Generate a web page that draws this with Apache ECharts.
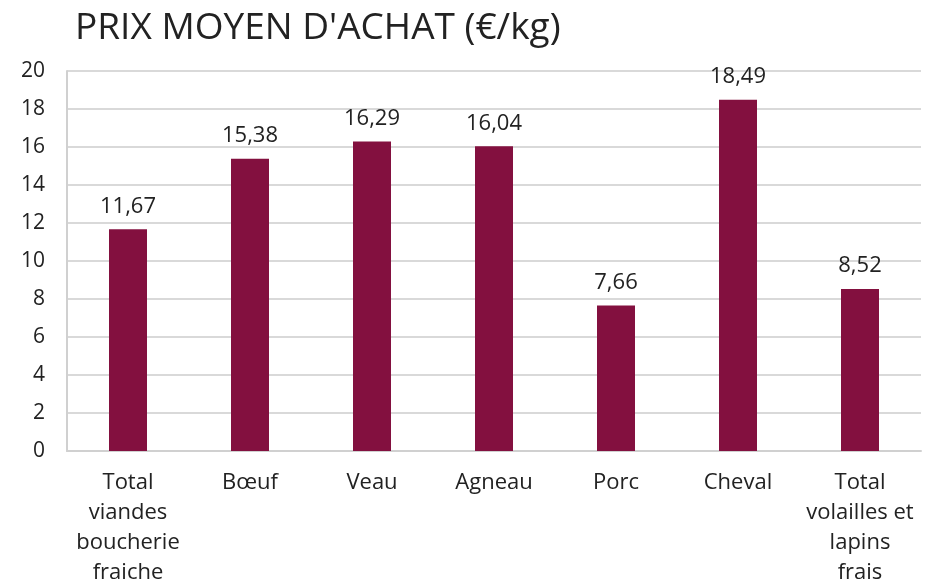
<!DOCTYPE html>
<html>
<head>
<meta charset="utf-8">
<script src="https://cdn.jsdelivr.net/npm/echarts@6/dist/echarts.min.js"></script>
<style>
html,body{margin:0;padding:0;background:#fff;}
#prix{width:928px;height:580px;}
</style>
</head>
<body>
<div id="prix"></div>
<script>
var categories = ['Total\nviandes\nboucherie\nfraiche', 'Bœuf', 'Veau', 'Agneau', 'Porc', 'Cheval', 'Total\nvolailles et\nlapins\nfrais'];
var prix = [11.67, 15.38, 16.29, 16.04, 7.66, 18.49, 8.52];

var mychart = echarts.init(document.getElementById('prix'));

var police = 'Open Sans';

option = {
    backgroundColor: '#ffffff',
    animation: false,
    title: {
        text: "PRIX MOYEN D'ACHAT (€/kg)",
        left: 70,
        top: 5,
        textStyle: {
            fontFamily: police,
            fontWeight: 'normal',
            fontSize: 37,
            color: '#222222'
        }
    },
    grid: {
        left: 67,
        right: 7,
        top: 71,
        bottom: 129,
        outerBoundsMode: 'none'
    },
    xAxis: {
        type: 'category',
        data: categories,
        axisLine: { lineStyle: { color: '#d0d0d0', width: 2 } },
        axisTick: { show: false },
        axisLabel: {
            interval: 0,
            margin: 17,
            fontFamily: police,
            fontSize: 22,
            lineHeight: 30,
            color: '#222222'
        }
    },
    yAxis: {
        type: 'value',
        min: 0,
        max: 20,
        interval: 2,
        axisLine: { show: true, lineStyle: { color: '#d0d0d0', width: 2 } },
        axisTick: { show: false },
        splitLine: { lineStyle: { color: '#d9d9d9', width: 2 } },
        axisLabel: {
            margin: 22,
            fontFamily: police,
            fontSize: 21,
            color: '#222222'
        }
    },
    series: [
        {
            type: 'bar',
            data: prix,
            barWidth: 38,
            itemStyle: { color: '#83103f' },
            label: {
                show: true,
                position: 'top',
                distance: 12,
                fontFamily: police,
                fontSize: 22,
                color: '#222222',
                formatter: function (p) {
                    return p.value.toFixed(2).replace('.', ',');
                }
            }
        }
    ]
};
mychart.setOption(option, true);
</script>
</body>
</html>
